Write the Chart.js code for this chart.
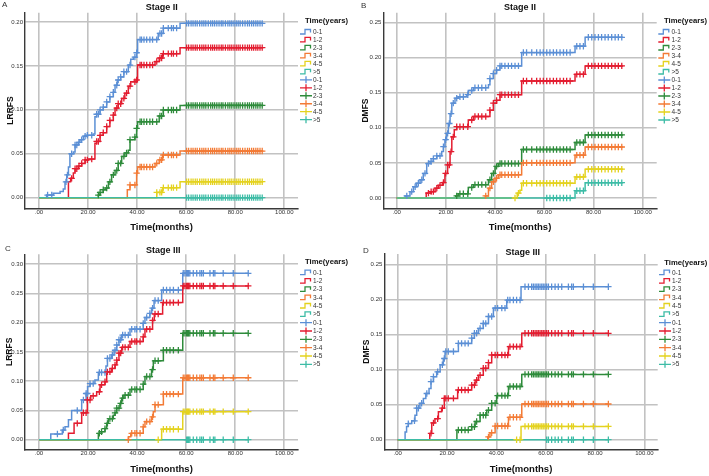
<!DOCTYPE html>
<html><head><meta charset="utf-8">
<script src="https://cdn.jsdelivr.net/npm/chart.js@4.4.1/dist/chart.umd.min.js"></script>
<style>
html,body{margin:0;padding:0;background:#fff;}
body{width:709px;height:476px;position:relative;overflow:hidden;}
canvas{position:absolute;}
</style></head><body>
<canvas id="cA" width="355" height="240" style="left:0px;top:0px"></canvas>
<canvas id="cB" width="354" height="240" style="left:355px;top:0px"></canvas>
<canvas id="cC" width="355" height="246" style="left:0px;top:230px"></canvas>
<canvas id="cD" width="354" height="246" style="left:355px;top:230px"></canvas>
<script>
// ---------- data ----------
const seriesNames = ['0-1', '1-2', '2-3', '3-4', '4-5', '>5'];
const seriesStart = [0, 12, 24, 36, 48, 60];
const legendTitle = 'Time(years)';
const xAxisTitle = 'Time(months)';
const xTicks = [0, 20, 40, 60, 80, 100];
const xTickLabels = ['.00', '20.00', '40.00', '60.00', '80.00', '100.00'];

const yTicks025 = [0, 0.05, 0.10, 0.15, 0.20, 0.25];
const yTickLabels025 = ['0.00', '0.05', '0.10', '0.15', '0.20', '0.25'];
const yTicks020 = [0, 0.05, 0.10, 0.15, 0.20];
const yTickLabels020 = ['0.00', '0.05', '0.10', '0.15', '0.20'];
const yTicks030 = [0, 0.05, 0.10, 0.15, 0.20, 0.25, 0.30];
const yTickLabels030 = ['0.00', '0.05', '0.10', '0.15', '0.20', '0.25', '0.30'];

// Panel A: Stage II, LRRFS  [time(months), cumulative value]
const A_01 = [[0,0],[3.1,0.003],[5.8,0.005],[8.6,0.007],[9.9,0.01],[10.6,0.018],[11.3,0.026],[12,0.035],[12.6,0.05],[14,0.052],[14.7,0.06],[16,0.063],[16.7,0.066],[18.1,0.07],[19.4,0.071],[22.1,0.0725],[22.8,0.092],[23.5,0.095],[24.9,0.1],[26.2,0.103],[27.6,0.109],[28.9,0.115],[30.3,0.12],[31,0.128],[31.9,0.134],[33.3,0.1375],[34.6,0.1435],[36.4,0.151],[37.4,0.1575],[38.5,0.16],[39.8,0.165],[40.2,0.18],[48.6,0.187],[50.7,0.193],[57.5,0.1985],[91.4,0.1985]];
const A_12 = [[0,0],[12,0.018],[12.9,0.022],[14,0.028],[14.7,0.033],[16,0.036],[17.4,0.039],[18.8,0.043],[20.1,0.044],[22.8,0.062],[23.5,0.064],[24.9,0.071],[26.2,0.074],[27.6,0.081],[28.9,0.088],[30.3,0.094],[31,0.102],[32.3,0.107],[33.7,0.113],[35,0.119],[36.4,0.127],[37.4,0.132],[39.8,0.134],[40.2,0.151],[47.3,0.155],[49,0.159],[50.4,0.164],[57.5,0.1708],[91.4,0.1708]];
const A_23 = [[0,0],[24.2,0.003],[24.9,0.006],[26.2,0.009],[27.3,0.011],[28.3,0.018],[29.6,0.026],[31,0.031],[32.3,0.039],[33.7,0.047],[35,0.051],[36.4,0.054],[37.1,0.066],[39.1,0.069],[39.8,0.079],[40.2,0.0865],[49,0.093],[50.7,0.0998],[57.5,0.105],[91.4,0.105]];
const A_34 = [[0,0],[36,0.009],[37.1,0.0145],[39.8,0.028],[40.2,0.035],[47.3,0.039],[49,0.043],[50.4,0.0486],[57.5,0.0531],[91.4,0.0531]];
const A_45 = [[0,0],[48,0.006],[50.4,0.0114],[57.5,0.0182],[91.4,0.0182]];
const A_5p = [[0,0],[91.4,0]];
const censorA = [3.5,5.2,11,11.6,13.3,14.7,15.4,16.3,17.4,18.8,19.7,21.5,23.5,24.2,24.9,26.2,27.6,28.9,30.3,31.7,32.3,33.3,34.6,35.7,37.1,39.1,39.8,41.2,41.8,42.8,43.9,45.2,46.3,48,49.3,50,50.7,52.7,54,54.8,56.1,60.2,61,62,62.8,63.7,64.5,65.5,66.4,67.2,68,69,70,70.8,71.6,72.5,73.4,74.3,75,76,77,77.8,78.6,79.5,80.4,81.2,82,83,84,85,85.8,86.7,87.5,88.4,89.2,90.1,91];

// Panel B: Stage II, DMFS
const B_01 = [[0,0],[3.4,0.003],[5.4,0.009],[6.8,0.016],[8.1,0.021],[9.5,0.026],[10.8,0.035],[12.2,0.049],[13.6,0.052],[14.9,0.056],[16.3,0.06],[18.3,0.066],[19,0.073],[19.6,0.083],[20.3,0.092],[21,0.106],[21.7,0.12],[22.4,0.135],[23.7,0.142],[25,0.144],[28.5,0.147],[29.1,0.153],[31.2,0.157],[37.3,0.161],[37.9,0.17],[39.3,0.177],[40.6,0.182],[42,0.188],[50.8,0.207],[72.5,0.216],[76.6,0.2287],[92.1,0.2287]];
const B_12 = [[0,0],[12,0.007],[14,0.009],[15.6,0.014],[16.9,0.018],[18.6,0.022],[19.6,0.035],[20.7,0.047],[21.7,0.066],[22.4,0.087],[23.4,0.097],[24.4,0.1015],[29.1,0.111],[31.2,0.116],[37.9,0.125],[39.3,0.135],[40.6,0.139],[42,0.147],[50.8,0.1665],[72.5,0.176],[76.6,0.188],[92.1,0.188]];
const B_23 = [[0,0],[24,0.003],[25,0.006],[29.1,0.015],[31.2,0.019],[37.3,0.026],[38.6,0.035],[40,0.045],[41.3,0.049],[50.8,0.069],[72.5,0.079],[76.6,0.0897],[92.1,0.0897]];
const B_34 = [[0,0],[36,0.003],[37.3,0.014],[38.6,0.023],[40,0.028],[41.3,0.033],[50.8,0.05],[72.5,0.061],[76.6,0.0726],[92.1,0.0726]];
const B_45 = [[0,0],[49,0.007],[50.1,0.011],[50.8,0.021],[72.5,0.03],[76.6,0.041],[92.1,0.041]];
const B_5p = [[0,0],[72.5,0.0104],[76.6,0.0218],[92.1,0.0218]];
const censorB = [4.1,6.1,7.5,8.8,10.2,11.5,12.9,14,14.9,16.3,17.6,19,19.9,20.7,21.4,22.1,23,24.4,25.7,27.1,28.9,30.5,31.8,33.2,34.6,36.2,37.9,39.3,40.6,42,42.7,44,45.4,46.7,48.1,49.5,51.5,52.8,54.9,56.9,58.3,59.6,61,62.3,63.7,65,66.4,67.8,69.1,70.5,73.2,74.5,75.9,77.9,79.3,80.6,82,83.3,84.7,86,87.4,88.8,90.1,91.5];

// Panel C: Stage III, LRRFS
const C_01 = [[0,0],[4.8,0.0097],[9.5,0.0165],[10.6,0.022],[12,0.034],[13.3,0.05],[17.4,0.068],[19.2,0.079],[19.8,0.091],[20.8,0.096],[22.8,0.102],[24.2,0.115],[27.3,0.126],[27.9,0.139],[29.6,0.145],[30.6,0.153],[31.7,0.162],[32.6,0.171],[33.7,0.179],[37.1,0.189],[42.5,0.199],[43.2,0.209],[45.2,0.216],[45.9,0.225],[46.9,0.238],[50,0.256],[58.6,0.2846],[85.3,0.2846]];
const C_12 = [[0,0],[12,0.011],[14.3,0.028],[17.4,0.046],[19.7,0.068],[21.1,0.075],[23.5,0.082],[24.9,0.094],[26.9,0.099],[27.6,0.116],[29.6,0.122],[31,0.128],[31.7,0.136],[32.6,0.148],[33.7,0.158],[37.1,0.168],[42.5,0.176],[43.2,0.189],[46.3,0.204],[47,0.215],[50.4,0.2345],[58.6,0.263],[85.3,0.263]];
const C_23 = [[0,0],[24.2,0.011],[25.5,0.0137],[26.9,0.019],[27.6,0.028],[28.3,0.036],[30.3,0.042],[31,0.046],[31.7,0.054],[33,0.062],[33.7,0.071],[34.6,0.076],[37.1,0.086],[42.5,0.095],[43.2,0.108],[45.9,0.12],[46.6,0.135],[50.7,0.153],[58.6,0.182],[85.3,0.182]];
const C_34 = [[0,0],[36.5,0.005],[37.4,0.011],[42.5,0.022],[43.2,0.031],[45.9,0.039],[46.6,0.048],[47.3,0.06],[50.7,0.078],[58.6,0.106],[85.3,0.106]];
const C_45 = [[0,0],[50,0.018],[58.6,0.048],[85.3,0.048]];
const C_5p = [[0,0],[85.3,0]];
const censorC = [7.5,9.9,15.6,18.1,19.2,19.7,20.8,22.1,24.6,25.5,26.9,27.9,28.9,29.9,31,31.7,32.6,33.3,34.1,35.1,36.4,37.8,39.1,39.8,41.2,42.5,43.9,45.2,46.3,47.3,48.6,50.7,52,53.4,54.8,56.8,58.8,59.5,60.2,60.6,61,61.5,62.9,64.3,65.6,66.3,67,69.7,71.1,71.7,75.1,79.2,85.3];

// Panel D: Stage III, DMFS
const D_01 = [[0,0],[3,0.011],[3.6,0.019],[4.3,0.023],[5.7,0.027],[7,0.035],[7.7,0.045],[9,0.052],[10.4,0.059],[11.4,0.066],[12.7,0.073],[13.5,0.083],[14.5,0.09],[15.8,0.097],[17.2,0.107],[18.5,0.116],[19.2,0.126],[24.6,0.1376],[30,0.145],[31.1,0.152],[32.7,0.159],[34.7,0.166],[36.8,0.176],[38.8,0.188],[44.2,0.1995],[50,0.2186],[85.4,0.2186]];
const D_12 = [[0,0],[13,0.009],[13.8,0.024],[15.1,0.03],[16.5,0.04],[17.8,0.045],[18.9,0.059],[24.3,0.071],[30,0.078],[31.4,0.085],[32.7,0.092],[34.7,0.102],[36.8,0.11],[38.1,0.121],[44.9,0.133],[50.3,0.152],[85.4,0.152]];
const D_23 = [[0,0],[24,0.0138],[30,0.0186],[31.4,0.026],[33.4,0.035],[36.1,0.042],[38.1,0.052],[40.1,0.063],[44.9,0.076],[50.3,0.0933],[85.4,0.0933]];
const D_34 = [[0,0],[36.5,0.004],[37.4,0.01],[39.5,0.0195],[44.9,0.032],[50.3,0.051],[85.4,0.051]];
const D_45 = [[0,0],[50,0.019],[85.4,0.019]];
const D_5p = [[0,0],[85.4,0]];
const censorD = [4.3,6.8,7.7,8.4,9.7,11.8,13.5,14.5,16.2,18.1,18.9,19.5,20.5,22.6,24.6,25.9,27.3,28.6,30,31.1,32,33.4,34.7,35.7,36.8,38.1,39.5,40.5,42.2,43.5,44.6,45.5,46.9,48.2,49.6,51.6,53,54.3,55,55.7,56.4,57,57.7,58.4,59,59.7,60.4,61.1,62.4,63.8,65.1,66.5,69.2,70.5,71.2,75.3,79.3,85.4];

// ---------- styles / layout ----------
const seriesColors = ['#5b8fd5', '#e31d30', '#2e8b3b', '#f37b36', '#e4d21f', '#3dbca6'];
const FONT = '"Liberation Sans", Arial, sans-serif';
Chart.defaults.font.family = FONT;

const panels = [
  { id:'cA', letter:'A', title:'Stage II', yTitle:'LRRFS', steps:[A_01,A_12,A_23,A_34,A_45,A_5p], censor:censorA, yTicks:yTicks020, yLabels:yTickLabels020,
    L:{ w:355, h:240, left:25, right:298, top:12.7, bottom:208.3, xMin:-5.71, xMax:105.59, yMin:-0.0121, yMax:0.2106, yTitlePad:5.2, xTitlePad:6.6,
        letterX:2, letterY:5, titleX:161.7, titleY:7.3, lgTitleX:305, lgTitleY:21, symX:300, textX:313, y0:32, dy:7.97 } },
  { id:'cB', letter:'B', title:'Stage II', yTitle:'DMFS', steps:[B_01,B_12,B_23,B_34,B_45,B_5p], censor:censorB, yTicks:yTicks025, yLabels:yTickLabels025,
    L:{ w:354, h:240, left:28.3, right:301.7, top:12.7, bottom:208.3, xMin:-5.45, xMax:105.7, yMin:-0.01466, yMax:0.2637, yTitlePad:5.6, xTitlePad:6.6,
        letterX:6, letterY:5.5, titleX:165, titleY:7.3, lgTitleX:309, lgTitleY:21, symX:303.3, textX:316.5, y0:32, dy:8 } },
  { id:'cC', letter:'C', title:'Stage III', yTitle:'LRRFS', steps:[C_01,C_12,C_23,C_34,C_45,C_5p], censor:censorC, yTicks:yTicks030, yLabels:yTickLabels030,
    L:{ w:355, h:246, left:25, right:298, top:24.3, bottom:219.3, xMin:-5.71, xMax:105.59, yMin:-0.0164, yMax:0.3171, yTitlePad:4.9, xTitlePad:1,
        letterX:5, letterY:19, titleX:163.3, titleY:20.7, lgTitleX:305, lgTitleY:32.3, symX:300, textX:313, y0:42.7, dy:8.33 } },
  { id:'cD', letter:'D', title:'Stage III', yTitle:'DMFS', steps:[D_01,D_12,D_23,D_34,D_45,D_5p], censor:censorD, yTicks:yTicks025, yLabels:yTickLabels025,
    L:{ w:354, h:246, left:29.3, right:302.7, top:24, bottom:219.3, xMin:-5.43, xMax:105.4, yMin:-0.0137, yMax:0.2653, yTitlePad:6.2, xTitlePad:1,
        letterX:8, letterY:20.7, titleX:167.7, titleY:22.3, lgTitleX:309.3, lgTitleY:32.7, symX:304, textX:317, y0:42.7, dy:8.33 } }
];

function valueAt(steps, t) {
  let v = 0;
  for (const [x, y] of steps) { if (x <= t) v = y; else break; }
  return v;
}

function drawDecor(chart, P) {
  const L = P.L, ctx = chart.ctx;
  ctx.save();
  ctx.textBaseline = 'middle';
  ctx.fillStyle = '#333';
  ctx.textAlign = 'left';
  ctx.font = '8px ' + FONT;
  ctx.fillText(P.letter, L.letterX, L.letterY);
  ctx.fillStyle = '#111';
  ctx.textAlign = 'center';
  ctx.font = 'bold 9px ' + FONT;
  ctx.fillText(P.title, L.titleX, L.titleY);
  // legend
  ctx.textAlign = 'left';
  ctx.font = 'bold 7.7px ' + FONT;
  ctx.fillText(legendTitle, L.lgTitleX, L.lgTitleY);
  const ds = chart.data.datasets;
  ctx.font = '6.5px ' + FONT;
  ds.forEach((d, k) => {
    const y = L.y0 + k * L.dy, x0 = L.symX;
    ctx.strokeStyle = d.borderColor;
    ctx.lineWidth = 1.3;
    ctx.beginPath();
    if (k < 6) {
      ctx.moveTo(x0, y + 2); ctx.lineTo(x0 + 5, y + 2); ctx.lineTo(x0 + 5, y - 2.5);
      ctx.lineTo(x0 + 10.5, y - 2.5); ctx.lineTo(x0 + 10.5, y + 0.5);
    } else {
      ctx.moveTo(x0, y); ctx.lineTo(x0 + 12, y);
      ctx.moveTo(x0 + 6, y - 3.5); ctx.lineTo(x0 + 6, y + 3.5);
    }
    ctx.stroke();
    ctx.fillStyle = '#333';
    ctx.fillText(d.label, L.textX, y + 0.3);
  });
  ctx.restore();
}

function buildChart(P) {
  const L = P.L;
  const datasets = [];
  P.steps.forEach((steps, i) => {
    datasets.push({
      label: seriesNames[i],
      data: steps.map(([x, y]) => ({ x, y })),
      stepped: 'before', borderColor: seriesColors[i], backgroundColor: seriesColors[i],
      borderWidth: 1.5, pointRadius: 0, pointHoverRadius: 0, fill: false, tension: 0,
      order: 20 - i
    });
  });
  P.steps.forEach((steps, i) => {
    const end = steps[steps.length - 1][0];
    const pts = P.censor.filter(t => t >= seriesStart[i] && t <= end).map(t => ({ x: t, y: valueAt(steps, t) }));
    datasets.push({
      label: seriesNames[i], data: pts, showLine: false,
      pointStyle: 'cross', pointRadius: 3.2, pointHoverRadius: 3.2, pointBorderWidth: 1.3,
      borderColor: seriesColors[i], backgroundColor: seriesColors[i], order: 10 - i
    });
  });
  const gridOpts = { color: '#c2c2c2', lineWidth: 1.6, drawTicks: false };
  const borderOpts = { display: true, color: '#3a3a3a', width: 1.4 };
  new Chart(document.getElementById(P.id), {
    type: 'line',
    data: { datasets },
    options: {
      responsive: false, animation: false, devicePixelRatio: 1, events: [],
      layout: { padding: { left: 0, top: L.top, right: L.w - L.right, bottom: 0 } },
      plugins: { legend: { display: false }, tooltip: { enabled: false }, title: { display: false } },
      scales: {
        x: {
          type: 'linear', position: 'bottom', min: L.xMin, max: L.xMax,
          afterBuildTicks: s => { s.ticks = xTicks.map(v => ({ value: v })); },
          afterFit: s => { s.height = L.h - L.bottom; },
          ticks: { autoSkip: false, maxRotation: 0, padding: 0, color: '#333', font: { size: 6 }, callback: (v, i) => xTickLabels[i] },
          grid: gridOpts, border: borderOpts,
          title: { display: true, text: xAxisTitle, color: '#111', font: { size: 9.5, weight: 'bold' }, padding: { top: 0, bottom: L.xTitlePad } }
        },
        y: {
          type: 'linear', position: 'left', min: L.yMin, max: L.yMax,
          afterBuildTicks: s => { s.ticks = P.yTicks.map(v => ({ value: v })); },
          afterFit: s => { s.width = L.left; },
          ticks: { padding: 2, color: '#333', font: { size: 6 }, callback: (v, i) => P.yLabels[i] },
          grid: gridOpts, border: borderOpts,
          title: { display: true, text: P.yTitle, color: '#111', font: { size: 8.5, weight: 'bold' }, padding: { top: L.yTitlePad, bottom: 0 } }
        }
      }
    },
    plugins: [{ id: 'decor', afterDraw: chart => drawDecor(chart, P) }]
  });
}

panels.forEach(buildChart);
</script>
</body></html>
